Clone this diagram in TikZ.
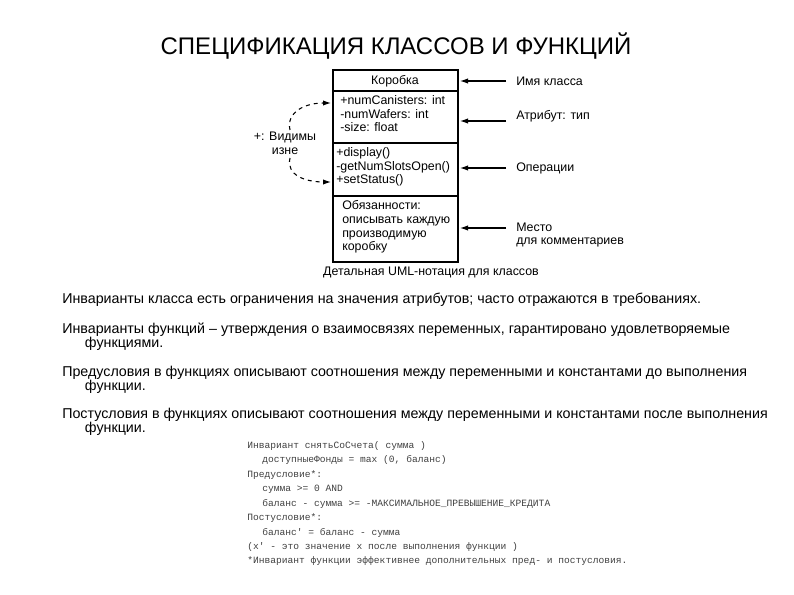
\documentclass[tikz,border=0pt]{standalone}
\usepackage{fontspec}
\setmainfont{Liberation Sans}
\newfontfamily\codefont{Liberation Mono}
\usetikzlibrary{arrows.meta}
\begin{document}
\begin{tikzpicture}[x=0.75pt,y=-0.75pt,
  lbl/.style={anchor=west,font=\fontsize{9.3}{10.4}\selectfont,inner sep=0,align=left},
  para/.style={anchor=north west,font=\fontsize{10.7}{10.6}\selectfont,inner sep=0,align=left},
  code/.style={anchor=west,font=\codefont\fontsize{7.2}{7}\selectfont,inner sep=0,text=black!75},
  arr/.style={-{Latex[length=6pt,width=4pt]},thick}]
\useasboundingbox (0,0) rectangle (794,595);
\node (title) at (396,46) {\fontsize{18}{20}\selectfont СПЕЦИФИКАЦИЯ КЛАССОВ И ФУНКЦИЙ};
% class box
\draw[thick] (333,70) rectangle (458,262);
\draw[thick] (333,91) -- (458,91) (333,143) -- (458,143) (333,196) -- (458,196);
\node[lbl,anchor=center] (cname) at (395,81) {Коробка};
\node[lbl,anchor=north west] (attrs) at (340,95) {+numCanisters: int\\-numWafers: int\\-size: float};
\node[lbl,anchor=north west] (ops) at (336,147) {+display()\\-getNumSlotsOpen()\\+setStatus()};
\node[lbl,anchor=north west] (cm) at (342,200) {Обязанности:\\описывать каждую\\производимую\\коробку};
\node[lbl,anchor=center] (cap) at (431,272) {Детальная UML-нотация для классов};
% right labels
\node[lbl] (l1) at (516,81) {Имя класса};
\node[lbl] (l2) at (516,116) {Атрибут: тип};
\node[lbl] (l3) at (516,168) {Операции};
\node[lbl] (l4) at (516,235) {Место\\для комментариев};
\coordinate (e1) at (460,81); \coordinate (e2) at (460,121);
\coordinate (e3) at (460,168); \coordinate (e4) at (460,228);
\draw[arr] (506,81) -- (e1);
\draw[arr] (506,121) -- (e2);
\draw[arr] (506,168) -- (e3);
\draw[arr] (506,228) -- (e4);
% left
\node[lbl,anchor=center,align=center] (vis) at (285,143) {+: Видимы\\изнe};
\coordinate (t1) at (331,103); \coordinate (t2) at (331,182);
\draw[arr,dashed] (290,130) .. controls (286,112) and (305,103) .. (t1);
\draw[arr,dashed] (290,158) .. controls (286,175) and (305,182) .. (t2);
% paragraphs
\node[para] (p1) at (62,293) {Инварианты класса есть ограничения на значения атрибутов; часто отражаются в требованиях.};
\node[para] (p2) at (62,323) {Инварианты функций – утверждения о взаимосвязях переменных, гарантировано удовлетворяемые\\\hspace*{17pt}функциями.};
\node[para] (p3) at (62,366) {Предусловия в функциях описывают соотношения между переменными и константами до выполнения\\\hspace*{17pt}функции.};
\node[para] (p4) at (62,408) {Постусловия в функциях описывают соотношения между переменными и константами после выполнения\\\hspace*{17pt}функции.};
% code
\node[code] (c1) at (247,446) {Инвариант снятьСоСчета( сумма )};
\node[code] (c2) at (262,460) {доступныеФонды = max (0, баланс)};
\node[code] (c3) at (247,475) {Предусловие*:};
\node[code] (c4) at (262,489) {сумма >= 0 AND};
\node[code] (c5) at (262,504) {баланс - сумма >= -МАКСИМАЛЬНОЕ\_ПРЕВЫШЕНИЕ\_КРЕДИТА};
\node[code] (c6) at (247,518) {Постусловие*:};
\node[code] (c7) at (262,533) {баланс' = баланс - сумма};
\node[code] (c8) at (247,547) {(x' - это значение x после выполнения функции )};
\node[code] (c9) at (247,561) {*Инвариант функции эффективнее дополнительных пред- и постусловия.};
\end{tikzpicture}
\end{document}
